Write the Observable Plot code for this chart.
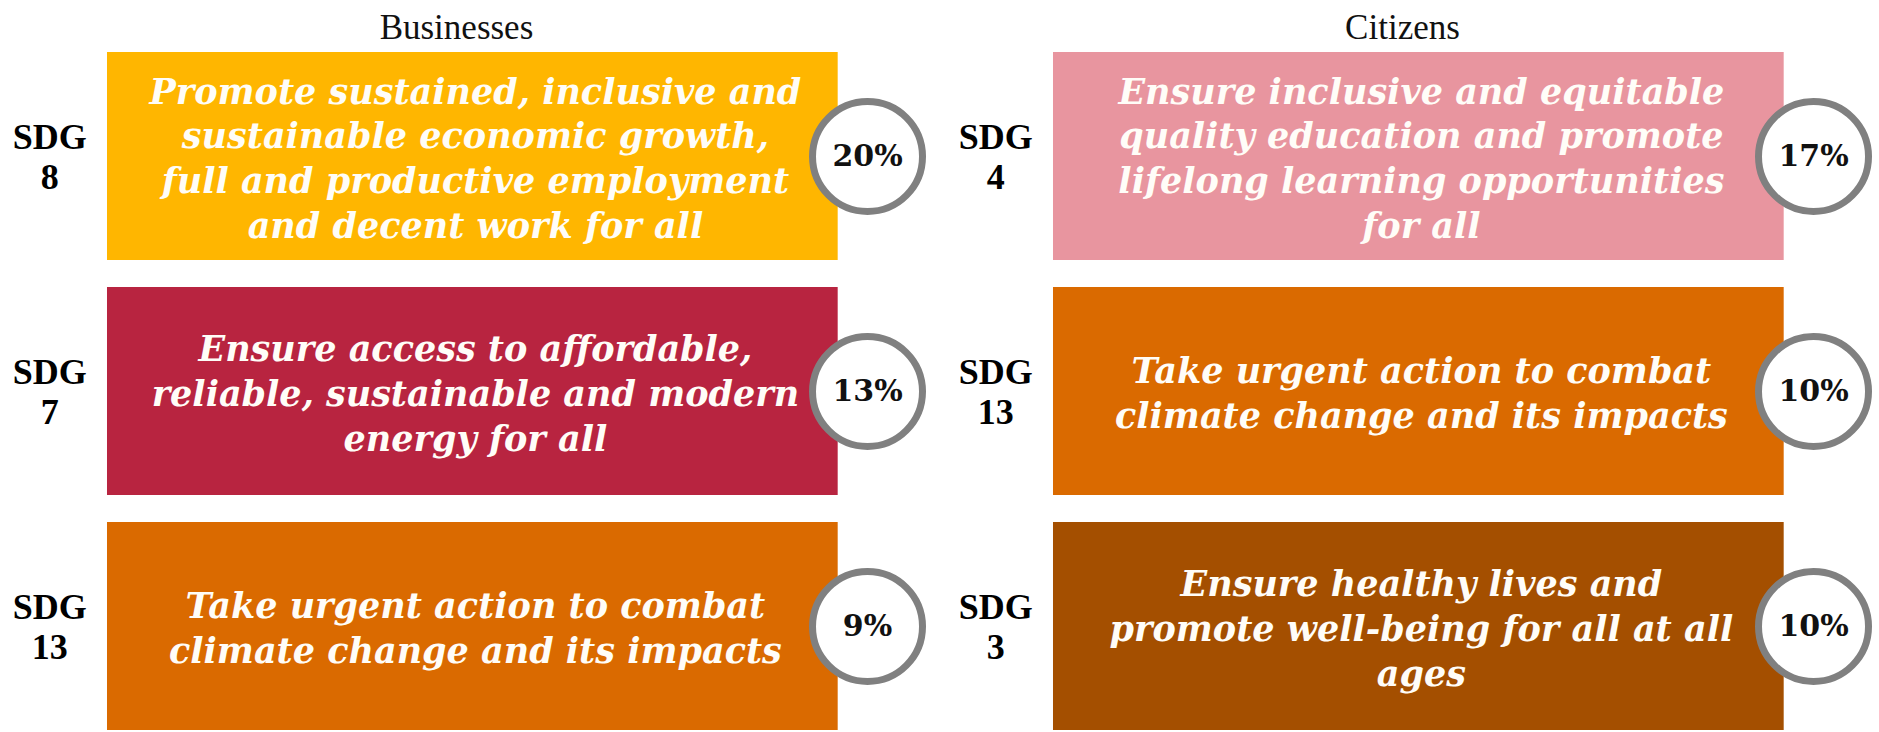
<!DOCTYPE html>
<html>
<head>
<meta charset="utf-8">
<script src="https://cdn.jsdelivr.net/npm/d3@7"></script>
<script src="https://cdn.jsdelivr.net/npm/@observablehq/plot@0.6"></script>
<style>
  html, body { margin: 0; padding: 0; background: #ffffff; }
  #chart svg { display: block; }
</style>
</head>
<body>
<div id="chart"></div>
<script>
// ---- data ----
const groups = ["Businesses", "Citizens"];
const ranks = [1, 2, 3];
const groupOfRow = ["Businesses", "Businesses", "Businesses", "Citizens", "Citizens", "Citizens"];
const rankOfRow = [1, 2, 3, 1, 2, 3];
const sdgNumbers = [8, 7, 13, 4, 13, 3];
const shares = [20, 13, 9, 17, 10, 10];
const goalTexts = [
  "Promote sustained, inclusive and\nsustainable economic growth,\nfull and productive employment\nand decent work for all",
  "Ensure access to affordable,\nreliable, sustainable and modern\nenergy for all",
  "Take urgent action to combat\nclimate change and its impacts",
  "Ensure inclusive and equitable\nquality education and promote\nlifelong learning opportunities\nfor all",
  "Take urgent action to combat\nclimate change and its impacts",
  "Ensure healthy lives and\npromote well-being for all at all\nages"
];
const sdgDomain = [8, 7, 13, 4, 3];

// ---- styles ----
const sdgColors = ["#FFB600", "#B82440", "#DA6A00", "#E8959F", "#A44F00"];

// ---- layout (panel units: 1 = one panel) ----
const L = { label: 0.052, box1: 0.1131, box2: 0.8855, text: 0.502, circle: 0.9165, title: 0.482 };

const rows = sdgNumbers.map((s, i) => ({
  group: groupOfRow[i], rank: rankOfRow[i], sdg: s, share: shares[i], goal: goalTexts[i]
}));
const gi = d => groups.indexOf(d.group);

const serif = "'Liberation Serif', 'Times New Roman', serif";
const goalFont = "'DejaVu Serif', Georgia, serif";

const chart = Plot.plot({
  width: 1879,
  height: 732,
  margin: 0,
  style: { background: "#ffffff", overflow: "visible" },
  x: { type: "linear", domain: [0, 2], range: [0, 1892], axis: null },
  y: { type: "band", domain: ranks, range: [52, 730], paddingInner: 0.115, paddingOuter: 0, axis: null },
  color: { type: "ordinal", domain: sdgDomain, range: sdgColors },
  marks: [
    Plot.text(groups, {
      x: (d, i) => i + L.title, frameAnchor: "top", lineAnchor: "middle", dy: 27, text: d => d,
      fontFamily: serif, fontSize: 35, fill: "#111"
    }),
    Plot.barX(rows, {
      x1: d => gi(d) + L.box1, x2: d => gi(d) + L.box2, y: "rank", fill: "sdg"
    }),
    Plot.text(rows, {
      x: d => gi(d) + L.text, y: "rank", text: "goal",
      fill: "#fffdf8", fontFamily: goalFont, fontSize: 35, fontWeight: "bold",
      fontStyle: "italic", lineHeight: 1.28
    }),
    Plot.dot(rows, {
      x: d => gi(d) + L.circle, y: "rank", r: 55,
      fill: "#ffffff", stroke: "#808080", strokeWidth: 7
    }),
    Plot.text(rows, {
      x: d => gi(d) + L.circle, y: "rank", text: d => d.share + "%",
      fill: "#111", fontFamily: goalFont, fontSize: 30, fontWeight: "bold"
    }),
    Plot.text(rows, {
      x: d => gi(d) + L.label, y: "rank", text: d => "SDG\n" + d.sdg,
      fill: "#000", fontFamily: serif, fontSize: 36, fontWeight: "bold", lineHeight: 1.1
    })
  ]
});
document.getElementById("chart").appendChild(chart);
</script>
</body>
</html>
